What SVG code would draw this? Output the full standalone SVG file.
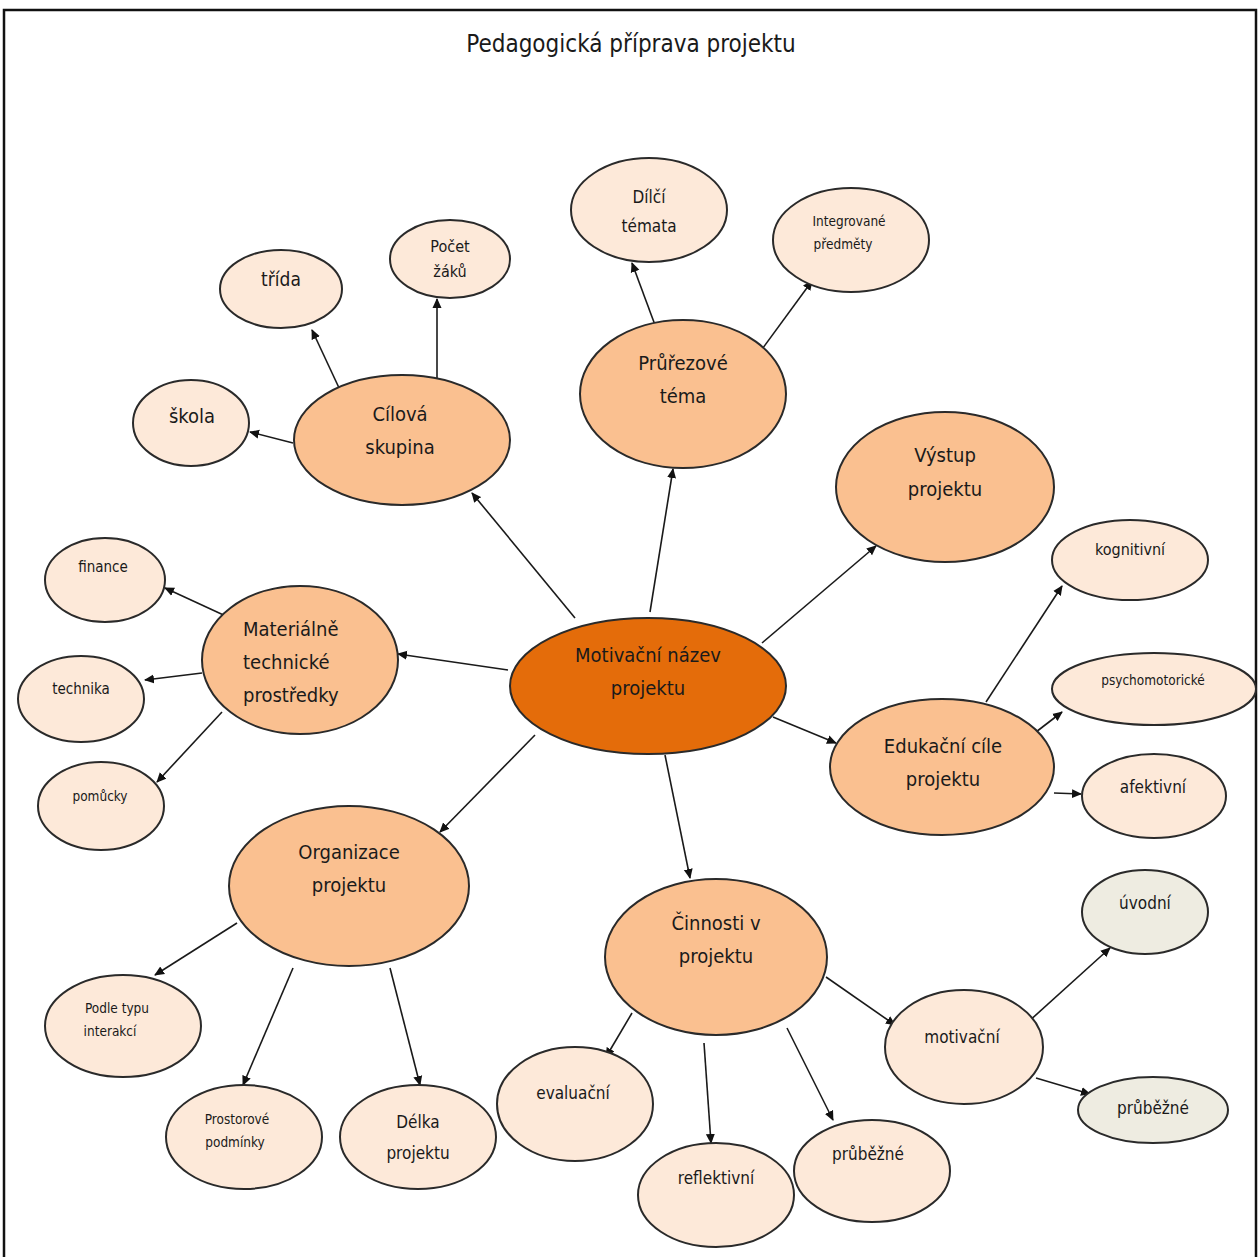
<svg xmlns="http://www.w3.org/2000/svg" width="1260" height="1257" viewBox="0 0 1260 1257">
<defs>
<marker id="ah" viewBox="0 0 10 10" refX="9" refY="5" markerWidth="10" markerHeight="10" markerUnits="userSpaceOnUse" orient="auto"><path d="M0,0.5 L10,5 L0,9.5 z" fill="#111"/></marker>
<style>
.e{stroke:#2a2a2a;stroke-width:2}
.c{fill:#E46C0A}
.m{fill:#FAC090}
.l{fill:#FDE9D9}
.g{fill:#EEECE1}
text{font-family:"Liberation Sans Narrow","DejaVu Sans Condensed","Liberation Sans",sans-serif;fill:#1a1a1a;text-anchor:middle}
text.s{text-anchor:start}
.t20{font-size:20px}
.t17{font-size:17px}
.t15{font-size:15px}
.t13{font-size:13.5px}
#connectors line{stroke:#1a1a1a;stroke-width:1.6;marker-end:url(#ah)}
</style>
</defs>
<rect width="1260" height="1257" fill="#fff"/>
<path d="M4,1257 V10 H1256 V1257" fill="none" stroke="#111" stroke-width="2.5"/>
<text x="631" y="52" style="font-size:24px">Pedagogická příprava projektu</text>

<g id="connectors">
<line x1="575" y1="618" x2="472" y2="493"/>
<line x1="293" y1="443" x2="250" y2="432"/>
<line x1="340" y1="390" x2="312" y2="330"/>
<line x1="437" y1="378" x2="437" y2="299"/>
<line x1="650" y1="612" x2="673" y2="469"/>
<line x1="655" y1="325" x2="632" y2="263"/>
<line x1="760" y1="352" x2="812" y2="281"/>
<line x1="762" y1="643" x2="876" y2="546"/>
<line x1="508" y1="670" x2="398" y2="654"/>
<line x1="230" y1="618" x2="165" y2="588"/>
<line x1="202" y1="673" x2="145" y2="680"/>
<line x1="222" y1="712" x2="157" y2="782"/>
<line x1="773" y1="717" x2="836" y2="743"/>
<line x1="986" y1="702" x2="1062" y2="586"/>
<line x1="1036" y1="732" x2="1062" y2="712"/>
<line x1="1054" y1="793" x2="1081" y2="794"/>
<line x1="535" y1="735" x2="440" y2="832"/>
<line x1="237" y1="923" x2="155" y2="975"/>
<line x1="293" y1="968" x2="243" y2="1085"/>
<line x1="390" y1="968" x2="420" y2="1085"/>
<line x1="665" y1="755" x2="690" y2="878"/>
<line x1="632" y1="1013" x2="606" y2="1057"/>
<line x1="704" y1="1043" x2="711" y2="1143"/>
<line x1="787" y1="1028" x2="833" y2="1120"/>
<line x1="826" y1="977" x2="895" y2="1025"/>
<line x1="1027" y1="1023" x2="1110" y2="948"/>
<line x1="1036" y1="1078" x2="1090" y2="1094"/>
</g>

<g id="n-center"><ellipse class="e c" cx="648" cy="686" rx="138" ry="68"/><text class="t20" x="648" y="662">Motivační název</text><text class="t20" x="648" y="695">projektu</text></g>
<g id="n-cilova"><ellipse class="e m" cx="402" cy="440" rx="108" ry="65"/><text class="t20" x="400" y="421">Cílová</text><text class="t20" x="400" y="454">skupina</text></g>
<g id="n-prurez"><ellipse class="e m" cx="683" cy="394" rx="103" ry="74"/><text class="t20" x="683" y="370">Průřezové</text><text class="t20" x="683" y="403">téma</text></g>
<g id="n-vystup"><ellipse class="e m" cx="945" cy="487" rx="109" ry="75"/><text class="t20" x="945" y="462">Výstup</text><text class="t20" x="945" y="496">projektu</text></g>
<g id="n-mat"><ellipse class="e m" cx="300" cy="660" rx="98" ry="74"/><text class="t20 s" x="243" y="636">Materiálně</text><text class="t20 s" x="243" y="669">technické</text><text class="t20 s" x="243" y="702">prostředky</text></g>
<g id="n-edu"><ellipse class="e m" cx="942" cy="767" rx="112" ry="68"/><text class="t20" x="943" y="753">Edukační cíle</text><text class="t20" x="943" y="786">projektu</text></g>
<g id="n-org"><ellipse class="e m" cx="349" cy="886" rx="120" ry="80"/><text class="t20" x="349" y="859">Organizace</text><text class="t20" x="349" y="892">projektu</text></g>
<g id="n-cin"><ellipse class="e m" cx="716" cy="957" rx="111" ry="78"/><text class="t20" x="716" y="930">Činnosti v</text><text class="t20" x="716" y="963">projektu</text></g>

<g id="n-skola"><ellipse class="e l" cx="191" cy="423" rx="58" ry="43"/><text class="t20" x="192" y="423">škola</text></g>
<g id="n-trida"><ellipse class="e l" cx="281" cy="289" rx="61" ry="39"/><text x="281" y="286" style="font-size:19px">třída</text></g>
<g id="n-pocet"><ellipse class="e l" cx="450" cy="259" rx="60" ry="39"/><text x="450" y="252" style="font-size:16px">Počet</text><text x="450" y="277" style="font-size:16px">žáků</text></g>
<g id="n-dilci"><ellipse class="e l" cx="649" cy="210" rx="78" ry="52"/><text class="t17" x="649" y="203">Dílčí</text><text class="t17" x="649" y="232">témata</text></g>
<g id="n-integ"><ellipse class="e l" cx="851" cy="240" rx="78" ry="52"/><text class="t13" x="849" y="226">Integrované</text><text class="t13" x="843" y="249">předměty</text></g>
<g id="n-finance"><ellipse class="e l" cx="105" cy="580" rx="60" ry="42"/><text class="t15" x="103" y="572">finance</text></g>
<g id="n-technika"><ellipse class="e l" cx="81" cy="699" rx="63" ry="43"/><text class="t15" x="81" y="694">technika</text></g>
<g id="n-pomucky"><ellipse class="e l" cx="101" cy="806" rx="63" ry="44"/><text class="t13" x="100" y="801">pomůcky</text></g>
<g id="n-kogn"><ellipse class="e l" cx="1130" cy="560" rx="78" ry="40"/><text x="1130" y="555" style="font-size:16px">kognitivní</text></g>
<g id="n-psycho"><ellipse class="e l" cx="1154" cy="689" rx="102" ry="36"/><text class="t13" x="1153" y="685">psychomotorické</text></g>
<g id="n-afekt"><ellipse class="e l" cx="1154" cy="796" rx="72" ry="42"/><text class="t17" x="1153" y="793">afektivní</text></g>
<g id="n-uvodni"><ellipse class="e g" cx="1145" cy="912" rx="63" ry="42"/><text class="t17" x="1145" y="909">úvodní</text></g>
<g id="n-prub2"><ellipse class="e g" cx="1153" cy="1110" rx="75" ry="33"/><text class="t17" x="1153" y="1114">průběžné</text></g>
<g id="n-motiv"><ellipse class="e l" cx="964" cy="1047" rx="79" ry="57"/><text class="t17" x="962" y="1043">motivační</text></g>
<g id="n-eval"><ellipse class="e l" cx="575" cy="1104" rx="78" ry="57"/><text class="t17" x="573" y="1099">evaluační</text></g>
<g id="n-refl"><ellipse class="e l" cx="716" cy="1195" rx="78" ry="52"/><text class="t17" x="716" y="1184">reflektivní</text></g>
<g id="n-prub1"><ellipse class="e l" cx="872" cy="1171" rx="78" ry="51"/><text class="t17" x="868" y="1160">průběžné</text></g>
<g id="n-podle"><ellipse class="e l" cx="123" cy="1026" rx="78" ry="51"/><text class="t13" x="117" y="1013">Podle typu</text><text class="t13" x="110" y="1036">interakcí</text></g>
<g id="n-prost"><ellipse class="e l" cx="244" cy="1137" rx="78" ry="52"/><text class="t13" x="237" y="1124">Prostorové</text><text class="t13" x="235" y="1147">podmínky</text></g>
<g id="n-delka"><ellipse class="e l" cx="418" cy="1137" rx="78" ry="52"/><text class="t17" x="418" y="1128">Délka</text><text class="t17" x="418" y="1159">projektu</text></g>
</svg>
